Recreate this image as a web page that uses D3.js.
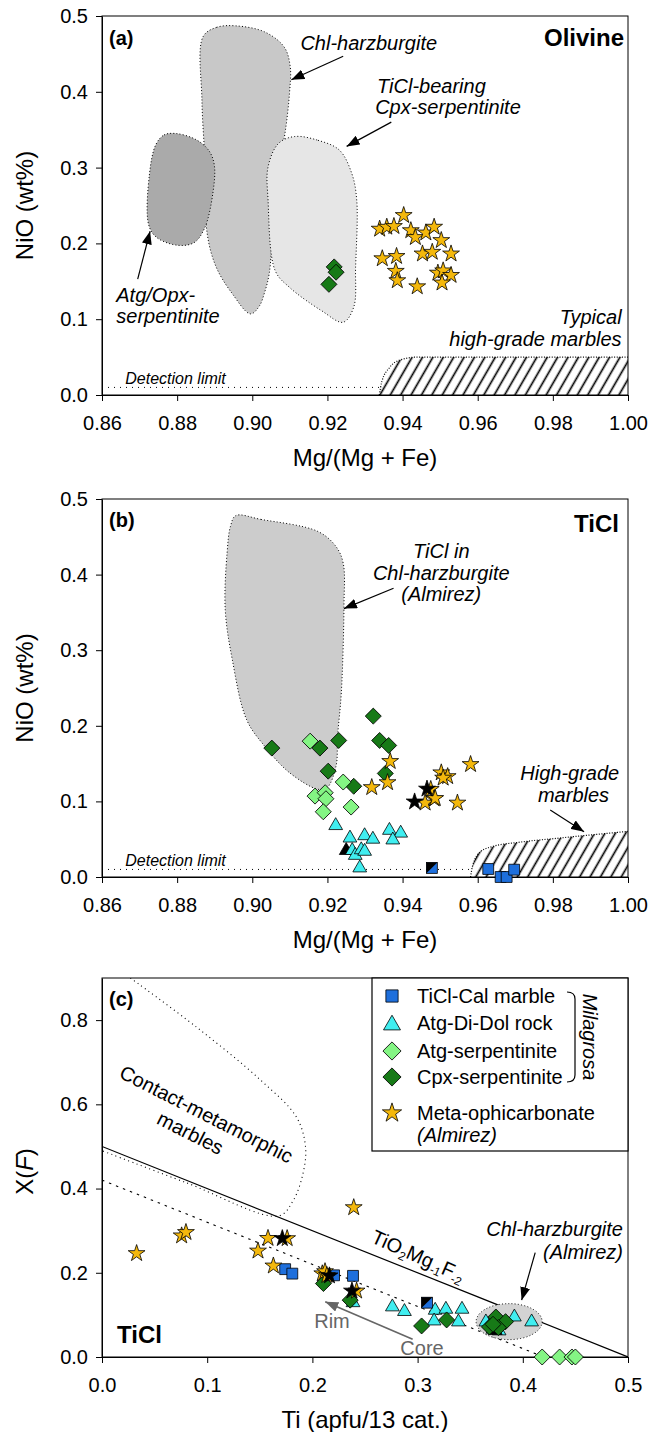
<!DOCTYPE html>
<html>
<head>
<meta charset="utf-8">
<script src="https://cdn.jsdelivr.net/npm/d3@7"></script>
<style>
  body { margin: 0; background: #fff; }
  svg text { font-family: "Liberation Sans", Arial, sans-serif; }
</style>
</head>
<body>
<script>
// ---------- tick labels ----------
const xTicksAB = [0.86, 0.88, 0.90, 0.92, 0.94, 0.96, 0.98, 1.00];
const yTicksAB = [0, 0.1, 0.2, 0.3, 0.4, 0.5];
const xTicksC = [0, 0.1, 0.2, 0.3, 0.4, 0.5];
const yTicksC = [0, 0.2, 0.4, 0.6, 0.8];

// ---------- (a) olivine ----------
const olivineMetaOphi = [
  [0.9403, 0.237], [0.9339, 0.219], [0.9358, 0.2216], [0.9377, 0.2225], [0.9422, 0.217],
  [0.9434, 0.208], [0.9462, 0.214], [0.9484, 0.2216], [0.9503, 0.204], [0.9346, 0.180],
  [0.9384, 0.183], [0.9453, 0.1863], [0.9479, 0.1885], [0.9529, 0.1863], [0.9382, 0.1634],
  [0.9386, 0.151], [0.9439, 0.143], [0.9494, 0.161], [0.9508, 0.164], [0.9529, 0.158],
  [0.9505, 0.148]
];
const olivineCpxSerp = [[0.9218, 0.169], [0.9223, 0.162], [0.9204, 0.146]];
const olivineChlHarzField = [
  [0.8869, 0.4727], [0.8905, 0.485], [0.8956, 0.487], [0.9033, 0.479], [0.9085, 0.459],
  [0.9101, 0.433], [0.9099, 0.398], [0.9087, 0.345], [0.907, 0.30], [0.9055, 0.22],
  [0.9045, 0.16], [0.9033, 0.1357], [0.9018, 0.1167], [0.8995, 0.107], [0.8947, 0.1335],
  [0.8904, 0.1687], [0.888, 0.2128], [0.8876, 0.292], [0.8866, 0.389]
];
const olivineAtgOpxField = [
  [0.8743, 0.330], [0.8765, 0.343], [0.8796, 0.345], [0.885, 0.337], [0.8885, 0.322],
  [0.8899, 0.303], [0.8895, 0.266], [0.8873, 0.220], [0.8845, 0.201], [0.880, 0.1976],
  [0.8745, 0.208], [0.8724, 0.225], [0.8726, 0.29]
];
const olivineCpxField = [
  [0.9113, 0.341], [0.9175, 0.336], [0.9232, 0.323], [0.9265, 0.292], [0.9278, 0.257],
  [0.9275, 0.169], [0.927, 0.116], [0.9242, 0.096], [0.9185, 0.111], [0.9099, 0.142],
  [0.9061, 0.164], [0.9042, 0.257], [0.9042, 0.301], [0.907, 0.332]
];
const olivineMarbleField = [
  [0.9338, 0], [0.9345, 0.018], [0.9365, 0.036], [0.9395, 0.0465], [0.944, 0.05], [1.0, 0.05], [1.0, 0]
];

// ---------- (b) titanian clinohumite ----------
const ticlCpxSerpB = [
  [0.9052, 0.1705], [0.918, 0.1705], [0.923, 0.1806], [0.9322, 0.2128], [0.9339, 0.1806],
  [0.9363, 0.174], [0.9202, 0.140], [0.9354, 0.137], [0.927, 0.120]
];
const ticlAtgSerpB = [
  [0.9154, 0.1797], [0.9242, 0.1256], [0.9167, 0.107], [0.9194, 0.1115], [0.9196, 0.1035],
  [0.9263, 0.0925], [0.9189, 0.0863]
];
const ticlDolRockB = [
  [0.9222, 0.068], [0.926, 0.0515], [0.9299, 0.0546], [0.9321, 0.050], [0.9365, 0.0617],
  [0.9395, 0.058], [0.9374, 0.049], [0.9266, 0.035], [0.9274, 0.0286], [0.929, 0.036],
  [0.9299, 0.034], [0.9286, 0.012]
];
const ticlDolRockBlackB = [[0.925, 0.035]];
const ticlCalMarbleB = [[0.9628, 0.0106], [0.9661, 0.0], [0.9677, 0.0], [0.9697, 0.0097]];
const ticlCalMarbleSplitB = [[0.9478, 0.012]];
const ticlMetaOphiB = [
  [0.9367, 0.153], [0.9503, 0.138], [0.952, 0.133], [0.9508, 0.131], [0.9581, 0.149],
  [0.936, 0.125], [0.9318, 0.1185], [0.9475, 0.116], [0.9484, 0.1035], [0.946, 0.098],
  [0.9546, 0.098], [0.9487, 0.104]
];
const ticlMetaOphiBlackB = [[0.9432, 0.0995], [0.9465, 0.1165]];
const ticlChlHarzFieldB = [
  [0.8956, 0.478], [0.9023, 0.473], [0.9175, 0.457], [0.9223, 0.437], [0.9242, 0.415],
  [0.9244, 0.358], [0.9237, 0.244], [0.9227, 0.186], [0.9223, 0.147], [0.9199, 0.118],
  [0.9175, 0.116], [0.9099, 0.138], [0.9033, 0.173], [0.8985, 0.208], [0.8947, 0.287],
  [0.8928, 0.354], [0.8933, 0.429], [0.8942, 0.464]
];
const ticlMarbleFieldB = [
  [0.9581, 0], [0.9586, 0.0141], [0.9608, 0.034], [0.9641, 0.0405], [0.9708, 0.0458],
  [0.9818, 0.0515], [1.0, 0.0604], [1.0, 0]
];

// ---------- (c) X(F) vs Ti ----------
const xfMetaOphiC = [
  [0.0329, 0.246], [0.0757, 0.288], [0.0798, 0.296], [0.1483, 0.252], [0.1578, 0.282],
  [0.176, 0.2815], [0.1629, 0.2165], [0.2094, 0.198], [0.212, 0.203], [0.2138, 0.194],
  [0.2393, 0.355], [0.242, 0.157]
];
const xfMetaOphiBlackC = [[0.1714, 0.2815], [0.2162, 0.193], [0.2376, 0.157]];
const xfCalMarbleC = [[0.1741, 0.2086], [0.1809, 0.198], [0.2206, 0.194], [0.2386, 0.1927]];
const xfCalMarbleSplitC = [[0.3089, 0.129]];
const xfDolRockC = [
  [0.2386, 0.129], [0.276, 0.119], [0.2875, 0.108], [0.3167, 0.111], [0.3269, 0.1134],
  [0.3422, 0.1134], [0.3157, 0.0856], [0.3388, 0.0833], [0.3649, 0.0833], [0.392, 0.095],
  [0.4084, 0.0833], [0.3775, 0.062], [0.3717, 0.066]
];
const xfDolRockBlackC = [[0.3738, 0.063]];
const xfCpxSerpC = [
  [0.2105, 0.1745], [0.2359, 0.135], [0.3038, 0.0737], [0.3276, 0.088], [0.3744, 0.095],
  [0.3836, 0.084], [0.3683, 0.0714], [0.3768, 0.0698], [0.3717, 0.0777]
];
const xfAtgSerpC = [[0.4184, 0], [0.435, 0], [0.4467, 0], [0.45, 0]];
const exchangeLineC = [[0, 0.5], [0.5, 0]];
const trendLineC = [[0, 0.42], [0.42, 0]];
const contactFieldC = [
  [0.027, 0.9], [0.09, 0.783], [0.151, 0.657], [0.185, 0.569], [0.1935, 0.498],
  [0.191, 0.435], [0.1816, 0.371], [0.168, 0.335], [0.08, 0.414], [0, 0.49]
];
const chlHarzEllipseC = [0.387, 0.084];

const legendLabels = ["TiCl-Cal marble", "Atg-Di-Dol rock", "Atg-serpentinite", "Cpx-serpentinite", "Meta-ophicarbonate"];

// ---------- colours / symbols ----------
const colStar = "#f4b80c", colCal = "#1e6fdc", colDol = "#40eef0",
      colAtg = "#84f584", colCpx = "#177a17";
const FONT = "Liberation Sans, Arial, sans-serif";

const svg = d3.select("body").append("svg")
    .attr("width", 649).attr("height", 1432);
const defs = svg.append("defs");

const hatch = defs.append("pattern").attr("id", "hatch")
    .attr("patternUnits", "userSpaceOnUse")
    .attr("width", 9).attr("height", 9)
    .attr("patternTransform", "rotate(30)");
hatch.append("line").attr("x1", 4.5).attr("y1", -1).attr("x2", 4.5).attr("y2", 10)
    .attr("stroke", "#000").attr("stroke-width", 1.7);

function arrowMarker(id, color) {
  defs.append("marker").attr("id", id)
    .attr("viewBox", "0 0 13 10").attr("refX", 13).attr("refY", 5)
    .attr("markerWidth", 13).attr("markerHeight", 10)
    .attr("markerUnits", "userSpaceOnUse").attr("orient", "auto")
    .append("path").attr("d", "M0,0L13,5L0,10Z").attr("fill", color);
}
arrowMarker("arrK", "#000");
arrowMarker("arrG", "#666");

const L = 102, R = 628;

const symPath = {
  star: d3.symbol(d3.symbolStar, 88)(),
  square: d3.symbol(d3.symbolSquare, 118)(),
  tri: d3.symbol(d3.symbolTriangle, 82)(),
  diamond: d3.symbol(d3.symbolSquare, 128)()
};

function points(p, data, type, fill) {
  p.g.append("g").selectAll("path")
    .data(data)
    .join("path")
    .attr("d", symPath[type])
    .attr("transform", d => `translate(${p.x(d[0])},${p.y(d[1])})` + (type === "diamond" ? " rotate(45)" : ""))
    .attr("fill", fill)
    .attr("stroke", "#000")
    .attr("stroke-width", 0.8);
}

function splitSquares(p, data) {
  const s = Math.sqrt(118) / 2;
  const g = p.g.append("g");
  g.selectAll("rect").data(data).join("rect")
    .attr("x", d => p.x(d[0]) - s).attr("y", d => p.y(d[1]) - s)
    .attr("width", 2 * s).attr("height", 2 * s)
    .attr("fill", colCal).attr("stroke", "#000").attr("stroke-width", 0.8);
  g.selectAll("path").data(data).join("path")
    .attr("d", d => {
      const cx = p.x(d[0]), cy = p.y(d[1]);
      return `M${cx - s},${cy - s}L${cx + s},${cy - s}L${cx - s},${cy + s}Z`;
    })
    .attr("fill", "#000");
}

function label(g, x, y, str, o = {}) {
  const t = g.append("text")
    .attr("x", x).attr("y", y)
    .attr("font-size", o.size || 20)
    .attr("text-anchor", o.anchor || "start")
    .attr("font-style", o.italic ? "italic" : "normal")
    .attr("font-weight", o.bold ? "bold" : "normal")
    .attr("fill", o.fill || "#000")
    .text(str);
  if (o.rotate) t.attr("transform", `rotate(${o.rotate},${x},${y})`);
  return t;
}

function arrow(p, from, to, color) {
  p.g.append("line")
    .attr("x1", p.x(from[0])).attr("y1", p.y(from[1]))
    .attr("x2", p.x(to[0])).attr("y2", p.y(to[1]))
    .attr("stroke", color || "#000").attr("stroke-width", color ? 1.6 : 1.2)
    .attr("marker-end", color ? "url(#arrG)" : "url(#arrK)");
}

function field(p, data, fill, curve) {
  const line = d3.line().x(d => p.x(d[0])).y(d => p.y(d[1]))
    .curve(curve || d3.curveCatmullRomClosed.alpha(0.5));
  p.clip.append("path").attr("d", line(data))
    .attr("fill", fill).attr("stroke", "#000")
    .attr("stroke-width", 1).attr("stroke-dasharray", "1,2.2");
}

function makePanel(id, top, bottom, xDom, yDom, xTicks, yTicks, xFmt, xTitle) {
  const x = d3.scaleLinear().domain(xDom).range([L, R]);
  const y = d3.scaleLinear().domain(yDom).range([bottom, top]);
  const g = svg.append("g");
  defs.append("clipPath").attr("id", "clip" + id)
    .append("rect").attr("x", L).attr("y", top).attr("width", R - L).attr("height", bottom - top);
  const clip = g.append("g").attr("clip-path", `url(#clip${id})`);

  g.append("g").attr("transform", `translate(0,${bottom})`)
    .call(d3.axisBottom(x).tickValues(xTicks).tickFormat(d3.format(xFmt))
      .tickSize(6).tickSizeOuter(0).tickPadding(15))
    .attr("font-size", 20).attr("font-family", FONT);
  g.append("g").attr("transform", `translate(${L},0)`)
    .call(d3.axisLeft(y).tickValues(yTicks).tickFormat(d3.format(".1f"))
      .tickSize(6).tickSizeOuter(0).tickPadding(8))
    .attr("font-size", 20).attr("font-family", FONT);
  g.append("rect").attr("x", L).attr("y", top).attr("width", R - L).attr("height", bottom - top)
    .attr("fill", "none").attr("stroke", "#000").attr("stroke-width", 1);

  label(g, (L + R) / 2, bottom + 71, xTitle, {size: 24, anchor: "middle"});
  return {g, clip, x, y, top, bottom};
}

// ================= panel (a) =================
const pa = makePanel("a", 16, 395, [0.86, 1.0], [0, 0.5], xTicksAB, yTicksAB, ".2f", "Mg/(Mg + Fe)");
label(pa.g, 33, (16 + 395) / 2, "NiO (wt%)", {size: 24, anchor: "middle", rotate: -90});

field(pa, olivineChlHarzField, "#c8c8c8");
field(pa, olivineAtgOpxField, "#aaaaaa");
field(pa, olivineCpxField, "#e6e6e6");
pa.clip.append("path")
  .attr("d", d3.line().x(d => pa.x(d[0])).y(d => pa.y(d[1])).curve(d3.curveMonotoneX)(olivineMarbleField.slice(0, 6)) +
    `L${pa.x(1)},${pa.y(0)}Z`)
  .attr("fill", "url(#hatch)").attr("stroke", "none");
pa.clip.append("path")
  .attr("d", d3.line().x(d => pa.x(d[0])).y(d => pa.y(d[1])).curve(d3.curveMonotoneX)(olivineMarbleField.slice(0, 6)))
  .attr("fill", "none").attr("stroke", "#000").attr("stroke-width", 1.2).attr("stroke-dasharray", "1,1.6");
pa.clip.append("line")
  .attr("x1", pa.x(0.86)).attr("x2", pa.x(0.9338)).attr("y1", pa.y(0.01)).attr("y2", pa.y(0.01))
  .attr("stroke", "#000").attr("stroke-dasharray", "1,5");
label(pa.g, pa.x(0.8662), pa.y(0.014), "Detection limit", {size: 16, italic: true});

points(pa, olivineCpxSerp, "diamond", colCpx);
points(pa, olivineMetaOphi, "star", colStar);

label(pa.g, 109, 45, "(a)", {bold: true});
label(pa.g, 624, 46, "Olivine", {size: 24, bold: true, anchor: "end"});
label(pa.g, pa.x(0.9128), pa.y(0.455), "Chl-harzburgite", {italic: true});
arrow(pa, [0.9242, 0.447], [0.9104, 0.416]);
label(pa.g, pa.x(0.9332), pa.y(0.399), "TiCl-bearing", {italic: true});
label(pa.g, pa.x(0.9327), pa.y(0.3705), "Cpx-serpentinite", {italic: true});
arrow(pa, [0.937, 0.360], [0.9251, 0.328]);
label(pa.g, pa.x(0.8638), pa.y(0.1225), "Atg/Opx-", {italic: true});
label(pa.g, pa.x(0.8638), pa.y(0.0947), "serpentinite", {italic: true});
arrow(pa, [0.8695, 0.153], [0.8728, 0.216]);
label(pa.g, pa.x(0.9983), pa.y(0.0938), "Typical", {italic: true, anchor: "end"});
label(pa.g, pa.x(0.9983), pa.y(0.0652), "high-grade marbles", {italic: true, anchor: "end"});

// ================= panel (b) =================
const pb = makePanel("b", 499, 877, [0.86, 1.0], [0, 0.5], xTicksAB, yTicksAB, ".2f", "Mg/(Mg + Fe)");
label(pb.g, 33, (499 + 877) / 2, "NiO (wt%)", {size: 24, anchor: "middle", rotate: -90});

field(pb, ticlChlHarzFieldB, "#cccccc");
pb.clip.append("path")
  .attr("d", d3.line().x(d => pb.x(d[0])).y(d => pb.y(d[1])).curve(d3.curveMonotoneX)(ticlMarbleFieldB.slice(0, 7)) +
    `L${pb.x(1)},${pb.y(0)}Z`)
  .attr("fill", "url(#hatch)").attr("stroke", "none");
pb.clip.append("path")
  .attr("d", d3.line().x(d => pb.x(d[0])).y(d => pb.y(d[1])).curve(d3.curveMonotoneX)(ticlMarbleFieldB.slice(0, 7)))
  .attr("fill", "none").attr("stroke", "#000").attr("stroke-width", 1.2).attr("stroke-dasharray", "1,1.6");
pb.clip.append("line")
  .attr("x1", pb.x(0.86)).attr("x2", pb.x(0.958)).attr("y1", pb.y(0.01)).attr("y2", pb.y(0.01))
  .attr("stroke", "#000").attr("stroke-dasharray", "1,5");
label(pb.g, pb.x(0.8662), pb.y(0.014), "Detection limit", {size: 16, italic: true});

points(pb, ticlCpxSerpB, "diamond", colCpx);
points(pb, ticlAtgSerpB, "diamond", colAtg);
points(pb, ticlDolRockBlackB, "tri", "#000");
points(pb, ticlDolRockB, "tri", colDol);
points(pb, ticlCalMarbleB, "square", colCal);
splitSquares(pb, ticlCalMarbleSplitB);
points(pb, ticlMetaOphiB, "star", colStar);
points(pb, ticlMetaOphiBlackB, "star", "#000");

label(pb.g, 109, 527, "(b)", {bold: true});
label(pb.g, 619, 532, "TiCl", {size: 24, bold: true, anchor: "end"});
label(pb.g, pb.x(0.9503), pb.y(0.422), "TiCl in", {italic: true, anchor: "middle"});
label(pb.g, pb.x(0.9503), pb.y(0.3934), "Chl-harzburgite", {italic: true, anchor: "middle"});
label(pb.g, pb.x(0.9503), pb.y(0.3648), "(Almirez)", {italic: true, anchor: "middle"});
arrow(pb, [0.9376, 0.382], [0.9244, 0.355]);
label(pb.g, pb.x(0.9845), pb.y(0.1282), "High-grade", {italic: true, anchor: "middle"});
label(pb.g, pb.x(0.9855), pb.y(0.0991), "marbles", {italic: true, anchor: "middle"});
arrow(pb, [0.9793, 0.0885], [0.9883, 0.060]);

// ================= panel (c) =================
const pc = makePanel("c", 978, 1357, [0, 0.5], [0, 0.9], xTicksC, yTicksC, ".1f", "Ti (apfu/13 cat.)");
const yt = pc.g.append("text")
  .attr("x", 33).attr("y", (978 + 1357) / 2 + 4)
  .attr("font-size", 24).attr("text-anchor", "middle")
  .attr("transform", `rotate(-90,33,${(978 + 1357) / 2 + 4})`);
yt.append("tspan").text("X(");
yt.append("tspan").attr("font-style", "italic").text("F");
yt.append("tspan").text(")");

const lineC = d3.line().x(d => pc.x(d[0])).y(d => pc.y(d[1]));
pc.clip.append("path").attr("d", d3.line().x(d => pc.x(d[0])).y(d => pc.y(d[1]))
    .curve(d3.curveCatmullRom.alpha(0.5))(contactFieldC))
  .attr("fill", "none").attr("stroke", "#000").attr("stroke-width", 1.1).attr("stroke-dasharray", "1,3.5");
pc.clip.append("path").attr("d", lineC(exchangeLineC))
  .attr("fill", "none").attr("stroke", "#000").attr("stroke-width", 1.2);
pc.clip.append("path").attr("d", lineC(trendLineC))
  .attr("fill", "none").attr("stroke", "#000").attr("stroke-width", 1.1).attr("stroke-dasharray", "2.5,5");
pc.clip.append("ellipse")
  .attr("cx", pc.x(chlHarzEllipseC[0])).attr("cy", pc.y(chlHarzEllipseC[1]))
  .attr("rx", 33).attr("ry", 18)
  .attr("fill", "#d3d3d3").attr("stroke", "#000").attr("stroke-width", 1).attr("stroke-dasharray", "1,2.2");

// legend box
const lg = pc.g.append("g");
lg.append("rect").attr("x", 372).attr("y", 978).attr("width", 256).attr("height", 173)
  .attr("fill", "#fff").attr("stroke", "#000").attr("stroke-width", 1.2);
const legRows = [996, 1023, 1051, 1077, 1113];
const legSym = [["square", colCal], ["tri", colDol], ["diamond", colAtg], ["diamond", colCpx], ["star", colStar]];
legSym.forEach((s, i) => {
  lg.append("path").attr("d", s[0] === "star" ? d3.symbol(d3.symbolStar, 115)() :
        s[0] === "tri" ? d3.symbol(d3.symbolTriangle, 125)() :
        s[0] === "diamond" ? d3.symbol(d3.symbolSquare, 165)() : d3.symbol(d3.symbolSquare, 150)())
    .attr("transform", `translate(392,${legRows[i] + (s[0] === "tri" ? 2 : 0)})` + (s[0] === "diamond" ? " rotate(45)" : ""))
    .attr("fill", s[1]).attr("stroke", "#000").attr("stroke-width", 0.8);
  label(lg, 417, legRows[i] + 7, legendLabels[i]);
});
label(lg, 417, 1142, "(Almirez)", {italic: true});
lg.append("path").attr("d", "M567,992 Q575,992 575,999 V1075 Q575,1082 567,1082")
  .attr("fill", "none").attr("stroke", "#000").attr("stroke-width", 1.2);
label(lg, 583, 1037, "Milagrosa", {italic: true, anchor: "middle", rotate: 90});

points(pc, xfAtgSerpC, "diamond", colAtg);
points(pc, xfDolRockC, "tri", colDol);
points(pc, xfDolRockBlackC, "tri", "#000");
points(pc, xfCalMarbleC, "square", colCal);
splitSquares(pc, xfCalMarbleSplitC);
points(pc, xfCpxSerpC, "diamond", colCpx);
points(pc, xfMetaOphiC, "star", colStar);
points(pc, xfMetaOphiBlackC, "star", "#000");

label(pc.g, 109, 1006, "(c)", {bold: true});
label(pc.g, 117, 1343, "TiCl", {size: 24, bold: true});

// rotated field label
const cm = pc.g.append("g").attr("transform", "translate(118,1077) rotate(27)");
label(cm, 0, 0, "Contact-metamorphic");
label(cm, 90, 24, "marbles", {anchor: "middle"});

// exchange vector label
const ex = pc.g.append("text").attr("font-size", 20)
  .attr("transform", "translate(370,1242) rotate(24)");
ex.append("tspan").text("TiO");
ex.append("tspan").attr("font-size", 12).attr("dy", 4).text("2");
ex.append("tspan").attr("dy", -4).text("Mg");
ex.append("tspan").attr("font-size", 12).attr("dy", 4).text("-1");
ex.append("tspan").attr("dy", -4).text("F");
ex.append("tspan").attr("font-size", 12).attr("dy", 4).text("-2");

label(pc.g, 623, 1236, "Chl-harzburgite", {italic: true, anchor: "end"});
label(pc.g, 623, 1259, "(Almirez)", {italic: true, anchor: "end"});
arrow(pc, [0.4118, 0.248], [0.3989, 0.135]);

label(pc.g, 332, 1328, "Rim", {fill: "#666", anchor: "middle"});
label(pc.g, 422, 1355, "Core", {fill: "#666", anchor: "middle"});
arrow(pc, [0.2953, 0.042], [0.2122, 0.131], "#666");
</script>
</body>
</html>
